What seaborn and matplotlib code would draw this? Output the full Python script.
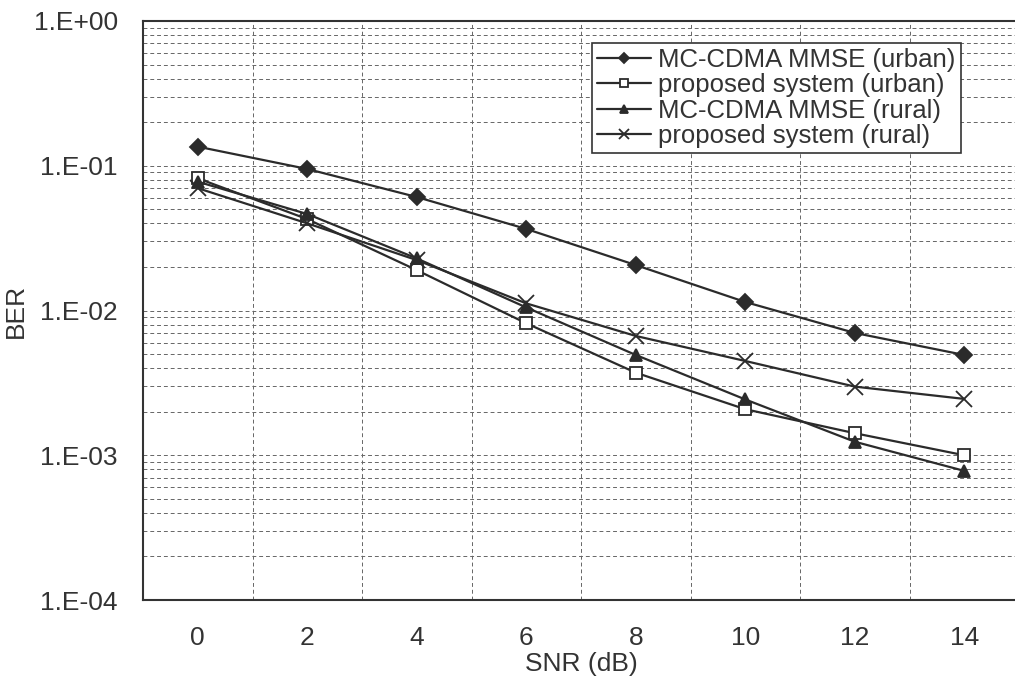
import numpy as np
import pandas as pd
import matplotlib
matplotlib.use("Agg")
import matplotlib.pyplot as plt
import seaborn as sns
from matplotlib.ticker import FixedLocator, LogLocator, NullFormatter

snr = [0, 2, 4, 6, 8, 10, 12, 14]
mmse_urban = [0.1355, 0.095, 0.0608, 0.0366, 0.0206, 0.01145, 0.0070, 0.00493]
prop_urban = [0.0819, 0.0428, 0.0190, 0.00816, 0.00372, 0.00208, 0.00142, 0.00100]
mmse_rural = [0.0776, 0.0464, 0.0229, 0.0105, 0.00493, 0.00243, 0.00124, 0.00078]
prop_rural = [0.0700, 0.0400, 0.0223, 0.0112, 0.00667, 0.00448, 0.00298, 0.00245]
labels = ["MC-CDMA MMSE (urban)", "proposed system (urban)",
          "MC-CDMA MMSE (rural)", "proposed system (rural)"]
ytick_labels = ["1.E-04", "1.E-03", "1.E-02", "1.E-01", "1.E+00"]

sns.set_style("white")
plt.rcParams["font.family"] = ["Liberation Sans", "DejaVu Sans"]

fig = plt.figure(figsize=(10.15, 6.96), dpi=100)
ax = fig.add_axes([143 / 1015, 1 - 600 / 696, (1019 - 143) / 1015, (600 - 21) / 696])

line_col = "#2b2b2b"
series = [mmse_urban, prop_urban, mmse_rural, prop_rural]
markers = ["D", "s", "^", "x"]
msizes = [8, 8.5, 9, 12]
mfc = [line_col, "white", line_col, line_col]
for vals, lab, mk, ms, fc in zip(series, labels, markers, msizes, mfc):
    df = pd.DataFrame({"SNR": snr, "BER": vals})
    sns.lineplot(data=df, x="SNR", y="BER", ax=ax, color=line_col, lw=1.6,
                 marker=mk, markersize=ms, markerfacecolor=fc,
                 markeredgecolor=line_col, markeredgewidth=1.3, label=lab)

ax.set_yscale("log")
ax.set_ylim(1e-4, 1)
ax.set_xlim(-1, 15)

ax.set_yticks([1e-4, 1e-3, 1e-2, 1e-1, 1])
ax.set_yticklabels(ytick_labels)
ax.yaxis.set_minor_locator(LogLocator(base=10, subs=np.arange(2, 10)))
ax.yaxis.set_minor_formatter(NullFormatter())

ax.set_xticks(snr)
ax.set_xticklabels([str(s) for s in snr])
ax.xaxis.set_minor_locator(FixedLocator([1, 3, 5, 7, 9, 11, 13]))

ax.tick_params(axis="y", which="major", direction="inout", length=12, width=1.2,
               color="#333333", labelsize=19, pad=12, labelcolor="#333333")
ax.tick_params(axis="y", which="minor", direction="in", length=6, width=1.0,
               color="#333333")
ax.tick_params(axis="x", which="major", direction="in", length=5, width=1.0,
               color="#555555", labelsize=19, pad=19, labelcolor="#333333")
ax.tick_params(axis="x", which="minor", length=0)

ax.grid(True, axis="y", which="both", linestyle=(0, (4, 3)), color="#666666", lw=0.7)
ax.grid(True, axis="x", which="minor", linestyle=(0, (4, 3)), color="#666666", lw=0.7)
ax.grid(False, axis="x", which="major")

for side in ["left", "bottom", "top"]:
    ax.spines[side].set_color("#333333")
    ax.spines[side].set_linewidth(1.5)
ax.spines["right"].set_visible(False)

ax.set_xlabel("SNR (dB)", fontsize=19, color="#333333", labelpad=1)
ax.set_ylabel("BER", fontsize=19, color="#333333", labelpad=4)

leg = ax.legend(loc="upper right", bbox_to_anchor=((961 - 143) / (1019 - 143), 1 - 22 / 579),
                fontsize=18.5, frameon=True, fancybox=False, framealpha=1,
                edgecolor="#333333", labelspacing=0.05, handlelength=2.1,
                handletextpad=0.3, borderpad=0.2, borderaxespad=0, markerscale=0.6)
leg.get_frame().set_linewidth(1.2)
for t in leg.get_texts():
    t.set_color("#333333")

fig.savefig("out.png", dpi=100)
